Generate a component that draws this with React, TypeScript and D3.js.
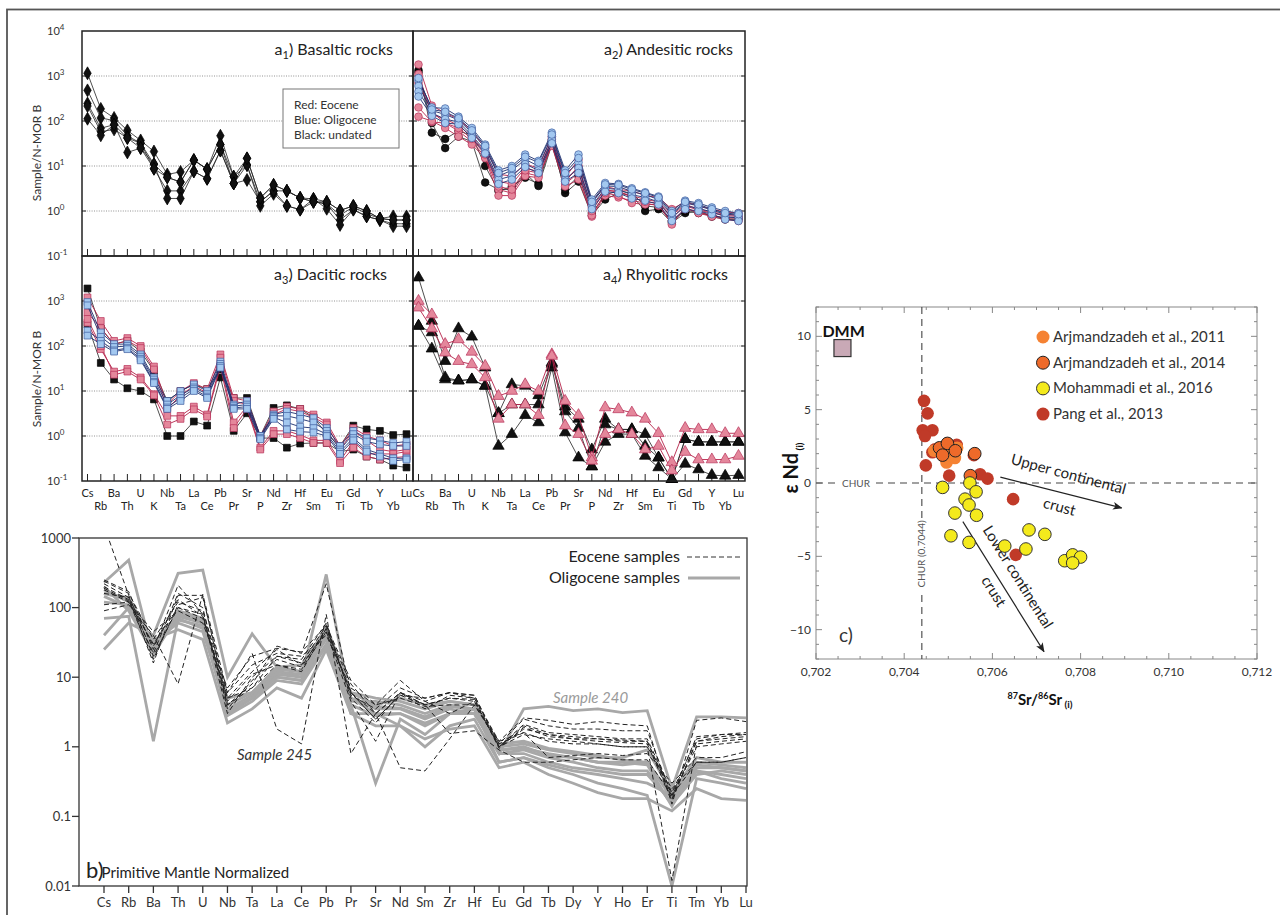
import React from "react";
import * as d3 from "d3";

const FONT = "Lato, 'Open Sans', 'DejaVu Sans', sans-serif";

// N-MORB normalised spider diagrams (a1-a4)
const elemsA = ["Cs","Rb","Ba","Th","U","K","Nb","Ta","La","Ce","Pb","Pr","Sr","P","Nd","Zr","Hf","Sm","Eu","Ti","Gd","Tb","Y","Yb","Lu"];
// primitive mantle spider diagram (b)
const elemsB = ["Cs","Rb","Ba","Th","U","Nb","Ta","La","Ce","Pb","Pr","Sr","Nd","Sm","Zr","Hf","Eu","Gd","Tb","Dy","Y","Ho","Er","Ti","Tm","Yb","Lu"];

// a1 basaltic rocks, undated only
const basaltUndated = [
  [1150,186,117,62,37,21,6.5,7.4,13.5,8.5,47,5.8,14.8,1.95,3.8,2.8,1.95,1.86,1.6,1.03,1.3,1.0,0.68,0.76,0.76],
  [480,117,102,47,32,11,5.6,4.4,13.5,8.5,30,5.8,10.5,1.6,2.8,2.8,1.95,1.6,1.45,0.81,1.23,0.87,0.68,0.63,0.63],
  [245,69,83,42,32,8.7,2.8,2.8,7.6,5.2,22,4.1,10.5,1.3,2.4,1.3,1.07,1.6,1.45,0.63,1.07,0.76,0.63,0.52,0.52],
  [215,58,65,42,25,11,1.9,1.9,7.6,5.2,22,4.1,4.9,1.6,2.8,1.3,1.07,1.86,1.12,0.49,1.07,0.76,0.63,0.46,0.46],
  [112,48,83,20,25,8.7,5.6,4.4,13.5,8.5,30,4.1,14.8,1.95,3.8,2.8,1.95,1.6,1.6,1.03,1.3,1.0,0.68,0.63,0.63],
];

// a2 andesitic rocks
const andesiteEocene = [
  [1800,220,150,110,60,25,6.5,6,11,9,45,5.5,14,1.6,3.5,3,2.8,2.2,2,1.1,1.6,1.3,1.1,0.95,0.9],
  [1100,140,110,80,45,20,4.5,4,9,7.5,35,4.5,10,1.2,3,2.6,2.2,1.8,1.6,0.8,1.4,1.1,0.95,0.85,0.8],
  [200,95,90,60,35,16,3,2.5,7,6,30,4,7,0.75,2.2,2,1.7,1.5,1.3,0.6,1.1,0.95,0.8,0.7,0.7],
  [125,100,70,45,30,15,2.2,2.2,6,5.5,28,3.5,5,0.8,2.5,2.2,1.5,1.4,1.4,0.5,1.2,0.9,0.75,0.65,0.6],
  [700,160,90,70,40,18,3.5,3,8,7,40,4.8,9,1,2.8,2.8,2,1.6,1.5,0.7,1.3,1.05,0.9,0.8,0.75],
];
const andesiteOligocene = [
  [800,200,190,125,70,30,8,10,18,13,55,8,18,1.8,4.2,4,3.2,2.6,2.1,1.0,1.7,1.5,1.2,1.0,0.9],
  [600,170,140,105,55,26,6,8,14,10,45,6.5,12,1.5,3.6,3.5,2.7,2.3,1.8,0.85,1.5,1.3,1.05,0.85,0.8],
  [450,150,110,95,48,22,5,6,11,8,38,5,9,1.3,3.2,3,2.3,2,1.6,0.7,1.3,1.15,0.95,0.75,0.7],
  [350,130,90,85,42,19,4,5,9.5,7,32,4.5,7,1.1,2.7,2.5,1.9,1.7,1.4,0.6,1.1,1.0,0.85,0.65,0.6],
  [900,180,160,115,62,28,7,9,16,12,50,7,15,1.6,3.9,3.8,3,2.5,2,0.9,1.6,1.4,1.1,0.9,0.85],
];
const andesiteUndated = [
  [1350,55,40,60,48,10,2.8,3.5,5.5,4,38,2.5,4.5,0.8,1.8,2.5,2.2,1,1.1,0.55,0.9,1.0,0.75,0.65,0.65],
  [1200,90,25,45,35,4.3,3,3,7,3.6,30,3,6,0.9,2.3,2.8,2.5,1.3,1.2,0.6,1.0,0.9,0.8,0.7,0.7],
];

// a3 dacitic rocks
const daciteEocene = [
  [1200,360,130,150,100,35,5,10,15,11,65,7,6,1.0,3.5,4.5,4,3,2,0.6,1.5,1.0,0.8,0.6,0.65],
  [550,250,110,130,90,30,4,8,13,9,55,6,5,0.9,3,4,3.5,2.6,1.8,0.5,1.3,0.8,0.5,0.45,0.5],
  [330,85,27,31,20,8.5,2.8,2.8,4.5,3,40,2,4.5,0.55,1.3,1.3,1.05,0.8,0.8,0.28,0.75,0.4,0.4,0.4,0.45],
  [400,100,23,27,18,8,1.8,2.4,3.9,2.7,35,1.5,4,0.5,1.1,1.1,0.9,0.7,0.7,0.25,0.55,0.35,0.3,0.33,0.35],
];
const daciteOligocene = [
  [950,200,110,110,65,20,6,10,14,10,45,5,6,1.0,3,3.5,3,2.5,1.5,0.6,1.3,0.9,0.8,0.7,0.75],
  [800,160,95,100,58,18,5,8,12,8.5,40,4.6,5,1.0,2.8,2.8,2.4,2,1.3,0.5,1.1,0.75,0.65,0.6,0.6],
  [220,130,80,90,52,16,4.3,7,11,7.5,36,4.2,4.5,0.9,2.6,2,1.6,1.5,1.1,0.45,0.9,0.5,0.4,0.32,0.32],
  [170,110,75,85,48,15,4,6,10,7,33,4,4,0.85,2.4,1.4,1.25,1.2,1.0,0.4,0.8,0.45,0.35,0.28,0.3],
];
const daciteUndated = [
  [1900,245,110,130,75,28,6,10,14,11,30,7,7,1.0,4.2,4.8,4.0,2.6,1.1,0.6,1.7,1.4,1.3,1.05,1.1],
  [300,42,18,11.5,10,6.5,1.0,1.0,2.1,1.7,20,1.3,3.2,0.9,0.9,0.55,0.68,0.7,0.7,0.45,0.5,0.35,0.3,0.22,0.2],
];

// a4 rhyolitic rocks
const rhyoliteEocene = [
  [1000,500,110,140,74,36,7.7,10,14,10,65,6,2.9,0.33,4.3,3.9,3.3,2.4,1.15,0.26,1.5,1.4,1.4,1.15,1.15],
  [710,245,71,46,39,20,2.4,5,5,2.9,60,1.7,1.1,0.28,1.1,1.4,1.1,0.5,0.6,0.17,0.44,0.3,0.3,0.3,0.36],
];
const rhyoliteUndated = [
  [3300,360,46,245,160,33,3.2,14,13,8,43,4.5,2.4,0.5,2.4,1.4,1.4,1.1,0.33,0.11,0.85,0.74,0.74,0.74,0.74],
  [280,87,18,17,18,13,0.6,1.1,2.9,2.0,33,1.2,0.33,0.21,0.74,1.1,1.1,0.36,0.2,0.11,0.24,0.18,0.135,0.13,0.135],
  [280,200,20,17,18,13,3.2,5,5,5,40,3.5,1.5,0.21,1.8,1.4,1.4,0.6,0.33,0.11,0.85,0.74,0.74,0.74,0.74],
];

// b primitive mantle normalised
const oligoceneSamples = [
  [160,140,30,80,60,5,6,14,12,40,6,4,5,4,4.5,4,0.8,3.5,3.8,3.3,3.5,3.1,3.3,0.25,2.7,2.7,2.6],
  [70,75,1.2,70,50,3,5,10,9,30,5,3,3,2,3,3,0.8,0.9,0.7,0.6,0.5,0.45,0.45,0.15,0.4,0.45,0.4],
  [230,480,20,90,70,4,6,12,10,300,4,0.3,2.5,1.5,3,3.5,0.6,0.7,0.55,0.45,0.4,0.35,0.3,0.2,0.45,0.35,0.3],
  [25,60,40,310,345,10,42,14,15,50,3,3,2,1,2,2.5,0.6,0.7,0.5,0.4,0.3,0.25,0.2,0.01,0.35,0.3,0.25],
  [40,100,35,48,35,2.2,3.5,7,5,25,3,2,2,1.3,1.8,2,0.5,0.6,0.4,0.3,0.22,0.18,0.18,0.12,0.25,0.18,0.17],
  [180,120,25,80,65,3,5,11,10,45,5,3.5,3.5,2.5,3.5,3,0.9,1.0,0.75,0.7,0.6,0.55,0.6,0.18,0.5,0.5,0.45],
  [145,100,28,66,55,3.5,5.5,12,11,35,4.5,4.5,4,3,4,3.5,1.0,1.1,0.9,0.8,0.7,0.7,0.9,0.22,0.7,0.6,0.6],
  [200,90,22,75,60,2.8,4.5,9,8,28,4,2.8,3,2.2,3,3,0.8,0.8,0.6,0.5,0.45,0.4,0.4,0.16,0.45,0.4,0.35],
  [120,110,32,60,45,4,6,13,12,55,6,5,4.5,3.5,4.5,4,1.1,1.2,0.95,0.85,0.75,0.65,0.6,0.2,0.6,0.55,0.5],
  [160,130,26,85,70,3.3,5,10,9,40,4.8,3.8,3.6,2.7,3.8,3.4,0.9,0.95,0.8,0.7,0.6,0.6,0.55,0.14,0.55,0.5,0.45],
];
const eoceneSamples = [
  [1500,150,20,100,80,4,7,15,12,50,8,3,6,4,5,4.5,1.0,2.0,1.5,1.4,1.3,1.2,1.2,0.2,1.0,1.1,1.2],
  [90,110,40,8,155,6,22,1.8,1.1,80,0.8,3,0.5,0.45,1.3,4,1.1,1.6,0.7,0.75,0.8,0.75,0.8,0.3,0.7,0.7,0.85],
  [250,170,25,210,80,3,10,20,18,60,5,2.2,6,3.5,5.5,5,1.2,2.6,2.4,2.1,2.3,2.1,2.0,0.15,2.4,2.6,2.3],
  [220,140,16,150,150,4,8,28,22,220,6,2.5,5.5,5,6,5.5,1.1,2.5,2.0,1.8,1.8,1.7,1.7,0.2,1.4,1.5,1.6],
  [180,120,30,100,70,5,12,25,15,45,4.5,1.2,6,4,1.55,1.7,0.9,0.6,0.6,0.65,0.7,0.65,0.65,0.2,0.6,0.6,0.7],
  [240,160,35,120,90,6,15,22,20,40,7,4,9,4.5,3,4.5,1.0,1.5,1.3,1.2,1.1,1.0,1.0,0.012,1.1,1.2,1.3],
  [200,130,22,160,100,3.5,9,18,14,50,6,3,6,4.5,6,5.5,1.0,1.8,1.5,1.3,1.3,1.25,1.2,0.18,1.2,1.3,1.4],
  [110,120,45,90,60,7,20,26,23,55,9,4,5,3.8,4,4,1.2,1.6,1.2,1.1,1.1,1.0,1.0,0.25,0.6,0.6,0.7],
  [160,140,28,130,75,4.5,11,15,13,45,6,2.5,5.5,4,5,4.8,0.95,1.9,1.4,1.3,1.2,1.15,1.1,0.17,1.2,1.4,1.5],
  [190,125,18,110,140,5,7,20,16,55,5.5,3.5,7,5,6,5,1.0,2.1,1.6,1.5,1.4,1.3,1.3,0.22,1.3,1.5,1.5],
];

// c epsilon Nd vs 87Sr/86Sr, [Sr, eNd]
const arjmandzadeh2011 = [[0.70496,1.4],[0.70515,1.7],[0.70505,2.0],[0.7049,1.8],[0.70468,2.2],[0.7052,2.4]];
const arjmandzadeh2014 = [[0.7048,2.4],[0.70498,2.7],[0.70487,1.9],[0.70516,2.2],[0.7056,2.0],[0.7055,0.5]];
const mohammadi2016 = [[0.70487,-0.3],[0.70549,0.0],[0.70563,-0.6],[0.70538,-1.1],[0.70547,-1.5],[0.70515,-2.05],[0.70564,-2.2],[0.70506,-3.6],[0.70547,-4.05],[0.70628,-4.3],[0.70683,-3.2],[0.70676,-4.5],[0.70719,-3.5],[0.70764,-5.3],[0.70782,-4.9],[0.708,-5.05],[0.70782,-5.45]];
const pang2013 = [[0.70445,5.6],[0.70453,4.75],[0.70442,3.6],[0.70464,3.6],[0.70447,3.2],[0.70464,2.1],[0.70449,1.2],[0.70502,0.5],[0.70572,0.6],[0.70589,0.3],[0.70647,-1.1],[0.70653,-4.9],[0.70519,2.6],[0.70558,1.9],[0.7047,2.3]];
const dmm = [0.7026, 9.2];
const churSr = 0.7044;

const PINK = { line: "#b5224a", fill: "#e4879b", stroke: "#b8325a", lw: 0.9 };
const BLUE = { line: "#1d2f6e", fill: "#a3c8f0", stroke: "#3d5c9e", lw: 0.9 };
const BLACK = { line: "#222", fill: "#111", stroke: "#000", lw: 0.8 };

function SpiderA(props: any) {
  const { x0, x1, y0, y1, sub, name, titleEnd, titleY, shape, size, groups, exps, showX } = props;
  const x = d3.scalePoint<string>().domain(elemsA).range([x0 + 5.5, x1 - 6.5]);
  const y = d3.scaleLog().domain([0.1, 1e4]).range([y1, y0]);
  const line = d3.line<number>().x((_, i) => x(elemsA[i])!).y((d) => y(d));
  const sym = d3.symbol().type(shape).size(size)()!;
  return (
    <g>
      {[1, 10, 100, 1000].map((v) => (
        <line key={v} x1={x0} x2={x1} y1={y(v)} y2={y(v)} stroke="#777" strokeWidth={0.8} strokeDasharray="1,1.4" />
      ))}
      {[1, 10, 100, 1000].map((v) => (
        <g key={"t" + v}>
          <line x1={x0} x2={x0 + 4} y1={y(v)} y2={y(v)} stroke="#222" />
          <line x1={x1} x2={x1 - 4} y1={y(v)} y2={y(v)} stroke="#222" />
        </g>
      ))}
      {elemsA.map((e) => (
        <line key={e} x1={x(e)} x2={x(e)} y1={y1} y2={y1 - 7} stroke="#222" strokeWidth={1} />
      ))}
      {groups.map((g: any, gi: number) => (
        <g key={gi}>
          {g.rows.map((r: number[], ri: number) => (
            <path key={ri} d={line(r)!} fill="none" stroke={g.line} strokeWidth={g.lw} />
          ))}
          {g.rows.map((r: number[], ri: number) =>
            r.map((v, i) => (
              <path key={ri + "-" + i} d={sym} transform={`translate(${x(elemsA[i])},${y(v)})`} fill={g.fill} stroke={g.stroke} strokeWidth={0.7} />
            ))
          )}
        </g>
      ))}
      <rect x={x0} y={y0} width={x1 - x0} height={y1 - y0} fill="none" stroke="#222" strokeWidth={1.5} />
      <text x={titleEnd} y={titleY} textAnchor="end" fontSize={16} fill="#222">
        a<tspan fontSize={11} dy={4}>{sub}</tspan>
        <tspan dy={-4}>{") " + name}</tspan>
      </text>
      {exps.map((e: number) => (
        <text key={e} x={47} y={y(Math.pow(10, e)) + 4} fontSize={11} fill="#333">
          10<tspan fontSize={8} dy={-5}>{e < 0 ? "-1" : String(e)}</tspan>
        </text>
      ))}
      {showX &&
        elemsA.map((e, i) => (
          <text key={"l" + e} x={x(e)} y={i % 2 === 0 ? 497 : 510} textAnchor="middle" fontSize={11} fill="#222">
            {e}
          </text>
        ))}
    </g>
  );
}

function PanelB() {
  const x = d3.scalePoint<string>().domain(elemsB).range([104, 746]);
  const y = d3.scaleLog().domain([0.01, 1000]).range([886, 538]);
  const line = d3.line<number>().x((_, i) => x(elemsB[i])!).y((d) => y(d));
  const ticks = [1000, 100, 10, 1, 0.1, 0.01];
  return (
    <g>
      <defs>
        <clipPath id="clipb">
          <rect x={79} y={538} width={668} height={348} />
        </clipPath>
      </defs>
      <g clipPath="url(#clipb)">
        {oligoceneSamples.map((r, i) => (
          <path key={"o" + i} d={line(r)!} fill="none" stroke="#a8a8a8" strokeWidth={2.8} strokeLinejoin="miter" />
        ))}
        {eoceneSamples.map((r, i) => (
          <path key={"e" + i} d={line(r)!} fill="none" stroke="#222" strokeWidth={1} strokeDasharray="5,3" />
        ))}
      </g>
      <rect x={79} y={538} width={668} height={348} fill="none" stroke="#333" strokeWidth={1.3} />
      {ticks.map((t) => (
        <g key={t}>
          <line x1={72} x2={79} y1={y(t)} y2={y(t)} stroke="#333" strokeWidth={1.3} />
          <text x={71} y={y(t) + 4.5} textAnchor="end" fontSize={13} fill="#333">{String(t)}</text>
        </g>
      ))}
      {elemsB.map((e) => (
        <g key={e}>
          <line x1={x(e)} x2={x(e)} y1={886} y2={893} stroke="#333" strokeWidth={1.3} />
          <text x={x(e)} y={907} textAnchor="middle" fontSize={13} fill="#333">{e}</text>
        </g>
      ))}
      <text x={680} y={562} textAnchor="end" fontSize={16} fill="#222">Eocene samples</text>
      <line x1={687} x2={740} y1={557} y2={557} stroke="#333" strokeWidth={1} strokeDasharray="5,3" />
      <text x={680} y={583} textAnchor="end" fontSize={16} fill="#222">Oligocene samples</text>
      <line x1={688} x2={740} y1={578} y2={578} stroke="#a8a8a8" strokeWidth={2.8} />
      <text x={553} y={703} fontSize={15} fontStyle="italic" fill="#9a9a9a">Sample 240</text>
      <text x={237} y={760} fontSize={15} fontStyle="italic" fill="#333">Sample 245</text>
      <text x={86} y={878} fontSize={22} fill="#222">
        b)<tspan fontSize={15} dx={-2}>Primitive Mantle Normalized</tspan>
      </text>
    </g>
  );
}

function PanelC() {
  const x = d3.scaleLinear().domain([0.702, 0.712]).range([816, 1257]);
  const y = d3.scaleLinear().domain([-12, 12]).range([659, 307]);
  const xMaj = d3.range(0.702, 0.7121, 0.002);
  const xMin = d3.range(0.702, 0.7121, 0.0005);
  const yMaj = [-10, -5, 0, 5, 10];
  const yMin = d3.range(-12, 12.1, 1);
  const fmt = (v: number) => d3.format(".3f")(v).replace(".", ",");
  const yl = (v: number) => (v < 0 ? "\u2212" + Math.abs(v) : String(v));
  const series = [
    { data: pang2013, fill: "#c03a28", stroke: "none" },
    { data: arjmandzadeh2011, fill: "#f58233", stroke: "none" },
    { data: arjmandzadeh2014, fill: "#ee6a2a", stroke: "#222" },
    { data: mohammadi2016, fill: "#f4ea1c", stroke: "#333" },
  ];
  const legend = [
    { label: "Arjmandzadeh et al., 2011", fill: "#f58233", stroke: "none" },
    { label: "Arjmandzadeh et al., 2014", fill: "#ee6a2a", stroke: "#222" },
    { label: "Mohammadi et al., 2016", fill: "#f4ea1c", stroke: "#333" },
    { label: " Pang et al., 2013", fill: "#c03a28", stroke: "none" },
  ];
  const upA = [[0.70618, 0.4], [0.70893, -1.7]];
  const loA = [[0.70533, -2.63], [0.70717, -11.5]];
  return (
    <g>
      <defs>
        <marker id="arr" viewBox="0 0 10 10" refX={9} refY={5} markerWidth={8} markerHeight={8} orient="auto">
          <path d="M0,1 L10,5 L0,9 L2.5,5 Z" fill="#222" />
        </marker>
      </defs>
      <rect x={816} y={307} width={441} height={352} fill="none" stroke="#888" strokeWidth={1} />
      {xMin.map((v, i) => (
        <g key={"xm" + i}>
          <line x1={x(v)} x2={x(v)} y1={659} y2={659 - (i % 4 === 0 ? 6 : 3)} stroke="#888" />
          <line x1={x(v)} x2={x(v)} y1={307} y2={307 + (i % 4 === 0 ? 6 : 3)} stroke="#888" />
        </g>
      ))}
      {yMin.map((v, i) => (
        <g key={"ym" + i}>
          <line x1={816} x2={816 + (v % 5 === 0 ? 6 : 3)} y1={y(v)} y2={y(v)} stroke="#888" />
          <line x1={1257} x2={1257 - (v % 5 === 0 ? 6 : 3)} y1={y(v)} y2={y(v)} stroke="#888" />
        </g>
      ))}
      {xMaj.map((v) => (
        <text key={"xl" + v} x={x(v)} y={676} textAnchor="middle" fontSize={12} fill="#333">{fmt(v)}</text>
      ))}
      {yMaj.map((v) => (
        <text key={"yl" + v} x={811} y={y(v) + 4} textAnchor="end" fontSize={12} fill="#333">{yl(v)}</text>
      ))}
      <line x1={816} x2={1257} y1={y(0)} y2={y(0)} stroke="#444" strokeWidth={1.1} strokeDasharray="7,5" />
      <line x1={x(churSr)} x2={x(churSr)} y1={307} y2={659} stroke="#444" strokeWidth={1.1} strokeDasharray="7,5" />
      <rect x={838} y={y(0) - 6} width={36} height={12} fill="#fff" />
      <text x={856} y={y(0) + 3.5} textAnchor="middle" fontSize={10} fill="#555">CHUR</text>
      <rect x={x(churSr) - 6} y={518} width={12} height={72} fill="#fff" />
      <text transform={`translate(${x(churSr) + 3.5},554) rotate(-90)`} textAnchor="middle" fontSize={10} fill="#555">CHUR (0.7044)</text>
      <line x1={x(upA[0][0])} y1={y(upA[0][1])} x2={x(upA[1][0])} y2={y(upA[1][1])} stroke="#222" strokeWidth={1.2} markerEnd="url(#arr)" />
      <line x1={x(loA[0][0])} y1={y(loA[0][1])} x2={x(loA[1][0])} y2={y(loA[1][1])} stroke="#222" strokeWidth={1.2} markerEnd="url(#arr)" />
      <g transform={`translate(${x(0.70768)},${y(0.07)}) rotate(15)`}>
        <text textAnchor="middle" fontSize={15} fill="#222" dy={-3}>Upper continental</text>
      </g>
      <g transform={`translate(${x(0.70755)},${y(-1.3)}) rotate(15)`}>
        <text textAnchor="middle" fontSize={15} fill="#222" dy={10}>crust</text>
      </g>
      <g transform={`translate(${x(0.70648)},${y(-6.6)}) rotate(58)`}>
        <text textAnchor="middle" fontSize={15} fill="#222" dy={0}>Lower continental</text>
      </g>
      <g transform={`translate(${x(0.70603)},${y(-7.4)}) rotate(58)`}>
        <text textAnchor="middle" fontSize={15} fill="#222" dy={5}>crust</text>
      </g>
      <rect x={x(dmm[0]) - 8.5} y={y(dmm[1]) - 8.5} width={17} height={17} fill="#c9a9b6" stroke="#333" strokeWidth={1.2} />
      <text x={x(dmm[0]) - 20} y={y(dmm[1]) - 11} fontSize={16} fontWeight="bold" fill="#111">DMM</text>
      {series.map((s, si) =>
        s.data.map((d, i) => (
          <circle key={si + "-" + i} cx={x(d[0])} cy={y(d[1])} r={6.3} fill={s.fill} stroke={s.stroke} strokeWidth={1} />
        ))
      )}
      {legend.map((l, i) => (
        <g key={l.label}>
          <circle cx={1043} cy={337 + i * 25.7} r={6.5} fill={l.fill} stroke={l.stroke} strokeWidth={1} />
          <text x={1053} y={337 + i * 25.7 + 5} fontSize={15} fill="#333">{l.label}</text>
        </g>
      ))}
      <text x={839} y={642} fontSize={19} fill="#333">c)</text>
      <text transform="translate(798,468) rotate(-90)" textAnchor="middle" fontSize={20} fontWeight="bold" fill="#111">
        ε Nd<tspan fontSize={10} dy={5}> (i)</tspan>
      </text>
      <text x={1040} y={705} textAnchor="middle" fontSize={15} fontWeight="bold" fill="#111">
        <tspan fontSize={9} dy={-6}>87</tspan>
        <tspan dy={6}>Sr/</tspan>
        <tspan fontSize={9} dy={-6}>86</tspan>
        <tspan dy={6}>Sr</tspan>
        <tspan fontSize={10} dy={3}>{" (i)"}</tspan>
      </text>
    </g>
  );
}

export default function App() {
  const aL = 82, aM = 413, aR = 745, aT = 31, aMid = 256, aB = 481;
  return (
    <svg width={1280} height={915} style={{ position: "absolute", left: 0, top: 0, display: "block" }} fontFamily={FONT}>
      <rect x={0} y={0} width={1280} height={915} fill="#fff" />
      <rect x={7} y={9.5} width={1290} height={920} fill="none" stroke="#555" strokeWidth={1.8} />
      <SpiderA x0={aL} x1={aM} y0={aT} y1={aMid} sub="1" name="Basaltic rocks" titleEnd={393} titleY={55}
        shape={d3.symbolDiamond} size={48} exps={[4, 3, 2, 1, 0, -1]} showX={false}
        groups={[{ rows: basaltUndated, ...BLACK }]} />
      <SpiderA x0={aM} x1={aR} y0={aT} y1={aMid} sub="2" name="Andesitic rocks" titleEnd={733} titleY={55}
        shape={d3.symbolCircle} size={46} exps={[]} showX={false}
        groups={[{ rows: andesiteUndated, ...BLACK }, { rows: andesiteEocene, ...PINK }, { rows: andesiteOligocene, ...BLUE }]} />
      <SpiderA x0={aL} x1={aM} y0={aMid} y1={aB} sub="3" name="Dacitic rocks" titleEnd={387} titleY={280}
        shape={d3.symbolSquare} size={46} exps={[3, 2, 1, 0, -1]} showX={true}
        groups={[{ rows: daciteUndated, ...BLACK }, { rows: daciteEocene, ...PINK }, { rows: daciteOligocene, ...BLUE }]} />
      <SpiderA x0={aM} x1={aR} y0={aMid} y1={aB} sub="4" name="Rhyolitic rocks" titleEnd={728} titleY={280}
        shape={d3.symbolTriangle} size={56} exps={[]} showX={true}
        groups={[{ rows: rhyoliteUndated, ...BLACK }, { rows: rhyoliteEocene, ...PINK }]} />
      <rect x={283} y={89} width={116} height={59} fill="#fff" stroke="#777" strokeWidth={1} />
      <text x={294} y={109} fontSize={12} fill="#333">Red: Eocene</text>
      <text x={294} y={124} fontSize={12} fill="#333">Blue: Oligocene</text>
      <text x={294} y={139} fontSize={12} fill="#333">Black: undated</text>
      <text transform="translate(41,153) rotate(-90)" textAnchor="middle" fontSize={12} fill="#333">Sample/N-MOR B</text>
      <text transform="translate(41,379) rotate(-90)" textAnchor="middle" fontSize={12} fill="#333">Sample/N-MOR B</text>
      <PanelB />
      <PanelC />
    </svg>
  );
}
